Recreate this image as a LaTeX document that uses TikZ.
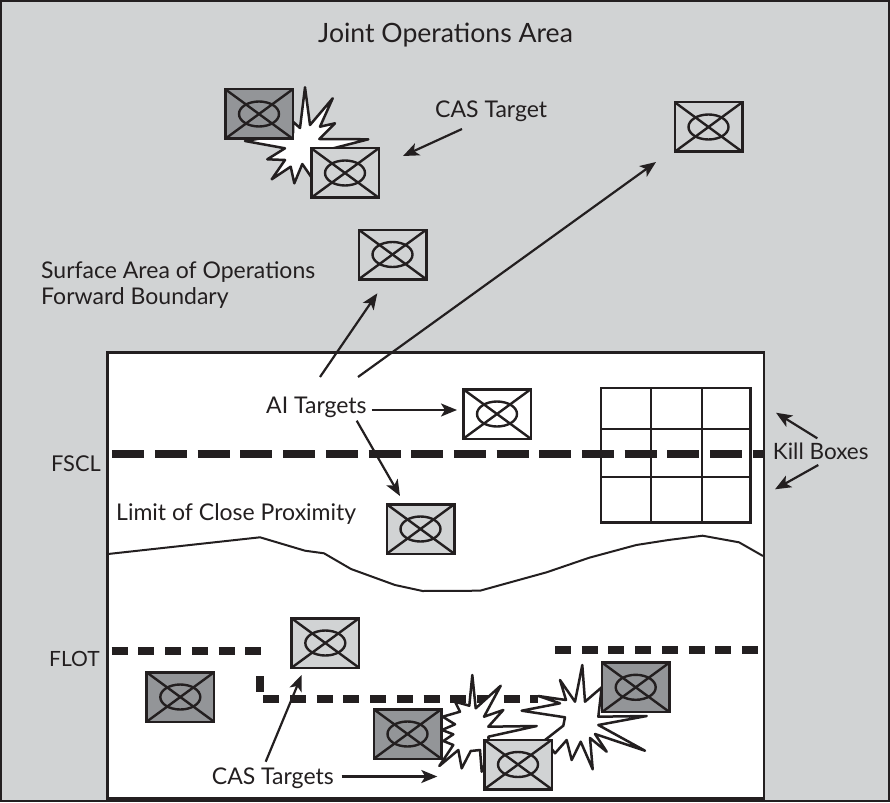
\documentclass[tikz,border=0pt]{standalone}
\usepackage{fontspec}
\setmainfont{Lato}
\usetikzlibrary{arrows.meta}
\definecolor{cInk}{HTML}{231F20}
\definecolor{cLight}{HTML}{D1D3D4}
\definecolor{cDark}{HTML}{939598}
\tikzset{
  tgtbox/.style={draw=cInk,fill=#1,line width=2.5pt,minimum width=67.5pt,minimum height=49.5pt,inner sep=0pt,
    path picture={
      \draw[cInk,line width=2.4pt] (path picture bounding box.north west) -- (path picture bounding box.south east);
      \draw[cInk,line width=2.4pt] (path picture bounding box.north east) -- (path picture bounding box.south west);
      \draw[cInk,line width=2.4pt] (path picture bounding box.center) ellipse (20pt and 12.5pt);
    }},
  burst/.style={draw=cInk,fill=white,line width=2.5pt,line join=round},
  pointer/.style={cInk,line width=2.2pt,-{Stealth[length=16pt,width=13pt,inset=4pt]}},
  txt/.style={text=cInk,inner sep=0pt,anchor=base west,font=\fontsize{23}{26}\selectfont},
  fsclline/.style={cInk,line width=8pt,dash pattern=on 32pt off 10.7pt},
  flotline/.style={cInk,line width=7.5pt,dash pattern=on 16pt off 10.7pt},
}
\begin{document}
\begin{tikzpicture}[x=1pt,y=-1pt]
\useasboundingbox (0,0) rectangle (890,802);
%background and inner area
\draw[cInk,line width=2pt,fill=cLight] (1,1) rectangle (889,801);
\draw[cInk,line width=2.2pt,fill=white] (107.5,352.5) rectangle (764,798.5);
%limit of close proximity
\draw[cInk,line width=2pt] (108,554) -- (260,537.3) -- (305,550.7) -- (324,553.3) -- (351,569) -- (395,585) -- (422.6,591) -- (480,590.7) -- (546.6,572.3) -- (589.3,557.7) -- (636.3,545) -- (668.4,540) -- (702.6,535.7) -- (739,542.3) -- (763,556);
%kill box grid
\draw[cInk,line width=2.2pt] (601,388) rectangle (750.5,522.5);
\foreach \x in {651.3,701.7}
    \draw[cInk,line width=2.2pt] (\x,388) -- (\x,522.5);
\foreach \y in {429.3,477.3}
    \draw[cInk,line width=2.2pt] (601,\y) -- (750.5,\y);
%FSCL and FLOT
\draw[fsclline] (112.3,454) -- (763,454);
\draw[flotline] (111.7,651) -- (261,651);
\draw[cInk,line width=8pt] (259.7,676) -- (259.7,692);
\draw[flotline] (263.3,699) -- (538.3,699);
\draw[flotline] (555,650) -- (758,650);
%explosions
\draw[burst] (305,87.3) -- (310,125) -- (332.7,98.3) -- (320,126.7) -- (335,123.3) -- (319.3,139) -- (368.3,139.3) -- (333.3,148.3) -- (313.3,180) -- (302.3,164) -- (294.3,183.3) -- (290.7,166.7) -- (271.7,179.3) -- (285,160) -- (267.3,159.3) -- (285,148.3) -- (245,141) -- (293,133) -- (293,121.7) -- (300,128) -- cycle;
\draw[burst] (472.3,675) -- (475.7,708.3) -- (500.7,685.7) -- (484,716.7) -- (503.3,710) -- (488.3,726.7) -- (536.7,726) -- (488.3,736.7) -- (490,750) -- (481.7,771.7) -- (480,750) -- (470.7,751) -- (461.7,768.3) -- (458.3,750) -- (439.3,766) -- (453.3,745) -- (443.3,741) -- (453.3,734.3) -- (442,730) -- (455,724.3) -- (442.7,716.7) -- (460,711.7) -- (455,701.7) -- (469.3,705.7) -- cycle;
\draw[burst] (582.3,665) -- (585,701.7) -- (601.7,687.3) -- (598.3,716.7) -- (646.7,716) -- (598.3,725) -- (645,750.7) -- (595,734) -- (606.7,751.7) -- (590,738) -- (592.7,769.3) -- (580.7,741.7) -- (571.7,760) -- (566.7,740) -- (555,753.3) -- (545,740) -- (563.3,725.7) -- (565,717.3) -- (521.7,710.7) -- (560,703.3) -- (538.3,696) -- (566,700) -- (560,680) -- (575,701.7) -- cycle;
%targets
\foreach \n/\x/\y/\c in {
    nTgtA/259/114/cDark,
    nTgtB/345/173/cLight,
    nTgtC/708.5/127/cLight,
    nTgtD/392.5/254.5/cLight,
    nTgtE/497/414/white,
    nTgtF/420.5/529/cLight,
    nTgtG/325.3/643/cLight,
    nTgtH/180.3/697/cDark,
    nTgtJ/407.5/734/cDark,
    nTgtK/518/764.5/cLight,
    nTgtL/635.7/687.3/cDark}
{
    \node[tgtbox=\c] (\n) at (\x,\y) {};
};
%labels
\node[txt,font=\fontsize{26.6}{32}\selectfont] (nLblJoint) at (318,43) {Joint Operations Area};
\node[txt] (nLblCas) at (435,118) {CAS Target};
\node[txt] (nLblSaoA) at (41,278) {Surface Area of Operations};
\node[txt] (nLblSaoB) at (41,304) {Forward Boundary};
\node[txt] (nLblAi) at (266,413) {AI Targets};
\node[txt,font=\fontsize{21.8}{26}\selectfont] (nLblFscl) at (51,471) {FSCL};
\node[txt,font=\fontsize{21}{26}\selectfont] (nLblFlot) at (49,666) {FLOT};
\node[txt,font=\fontsize{22.5}{26}\selectfont] (nLblKill) at (772.7,459) {Kill Boxes};
\node[txt] (nLblLimit) at (116,520) {Limit of Close Proximity};
\node[txt] (nLblCasB) at (211.7,784) {CAS Targets};
%arrow ends
\coordinate (cCasTail) at (462,129);
\coordinate (cCasTip) at (403,156);
\coordinate (cAiTailA) at (320,377);
\coordinate (cAiTipA) at (377.3,293.3);
\coordinate (cAiTailB) at (358,377);
\coordinate (cAiTipB) at (656,162);
\coordinate (cAiTailC) at (371.5,410);
\coordinate (cAiTipC) at (457,410);
\coordinate (cAiTailD) at (356.7,420.7);
\coordinate (cAiTipD) at (400,496);
\coordinate (cKillTailA) at (817.3,438.3);
\coordinate (cKillTipA) at (776,412.7);
\coordinate (cKillTailB) at (818.3,465);
\coordinate (cKillTipB) at (775,489.3);
\coordinate (cCasTailB) at (265.7,761.7);
\coordinate (cCasTipB) at (301.7,675);
\coordinate (cCasTailC) at (341.7,776.5);
\coordinate (cCasTipC) at (437.3,776.5);
\foreach \a/\b in {cCasTail/cCasTip,cAiTailA/cAiTipA,cAiTailB/cAiTipB,cAiTailC/cAiTipC,cAiTailD/cAiTipD,cKillTailA/cKillTipA,cKillTailB/cKillTipB,cCasTailB/cCasTipB,cCasTailC/cCasTipC}
    \draw[pointer] (\a) -- (\b);
\end{tikzpicture}
\end{document}
